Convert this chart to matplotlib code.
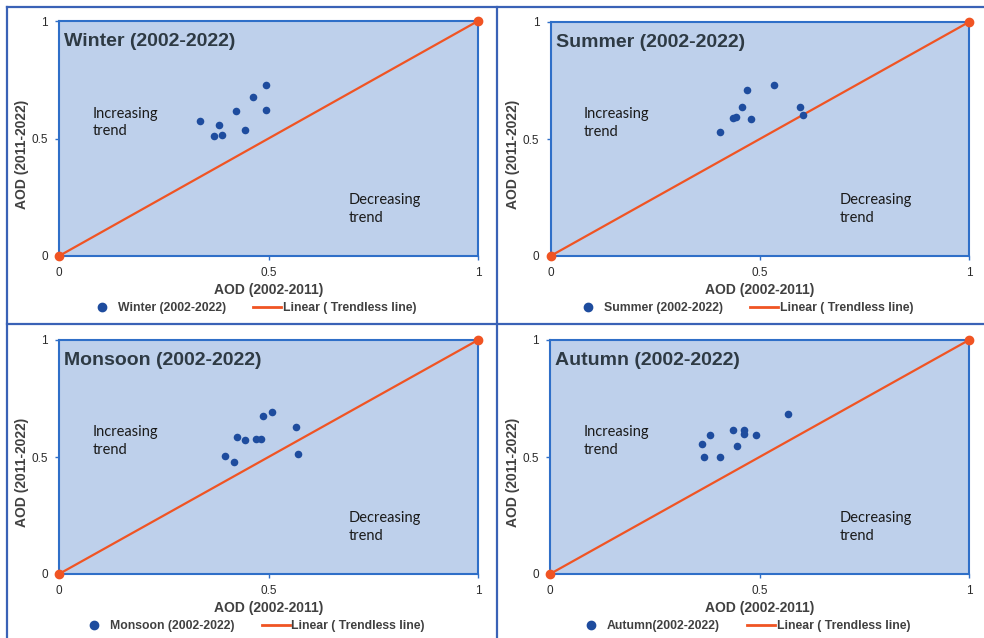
import matplotlib
matplotlib.use("Agg")
import matplotlib.pyplot as plt
from matplotlib.lines import Line2D

# AOD pairs per season: x = mean 2002-2011, y = mean 2011-2022
winter_x = [0.336, 0.383, 0.370, 0.389, 0.423, 0.444, 0.463, 0.495, 0.494]
winter_y = [0.575, 0.557, 0.510, 0.517, 0.616, 0.537, 0.678, 0.726, 0.621]

summer_x = [0.405, 0.435, 0.443, 0.457, 0.469, 0.480, 0.533, 0.596, 0.603]
summer_y = [0.530, 0.591, 0.596, 0.637, 0.710, 0.586, 0.730, 0.637, 0.601]

monsoon_x = [0.395, 0.417, 0.424, 0.444, 0.471, 0.481, 0.488, 0.509, 0.565, 0.571]
monsoon_y = [0.506, 0.480, 0.585, 0.571, 0.577, 0.577, 0.677, 0.694, 0.628, 0.514]

autumn_x = [0.363, 0.368, 0.381, 0.405, 0.436, 0.446, 0.463, 0.463, 0.491, 0.567]
autumn_y = [0.555, 0.501, 0.595, 0.501, 0.615, 0.547, 0.615, 0.597, 0.592, 0.682]

titles = ["Winter (2002-2022)", "Summer (2002-2022)",
          "Monsoon (2002-2022)", "Autumn (2002-2022)"]
legend_names = ["Winter (2002-2022)", "Summer (2002-2022)",
                "Monsoon (2002-2022)", "Autumn(2002-2022)"]
trend_x = [0, 1]
trend_y = [0, 1]
ticks = [0, 0.5, 1]
tick_labels = ["0", "0.5", "1"]

seasons = [(winter_x, winter_y), (summer_x, summer_y),
           (monsoon_x, monsoon_y), (autumn_x, autumn_y)]

W, H = 984, 638
fig = plt.figure(figsize=(W / 100, H / 100), dpi=100)
fig.patch.set_facecolor("white")

BG = "#BED0EB"
SPINE = "#2F6FC8"
DOT = "#1E4C9E"
ORANGE = "#F05423"
GREY = "#404040"
ARIAL = ["Liberation Sans", "DejaVu Sans"]

# pixel boxes (left, top, right, bottom) of the four plot areas
boxes = [(59, 21, 478, 256), (550.5, 22, 969, 256),
         (59, 340, 478, 574), (550, 340, 969, 574)]

for (xs, ys), title, lname, (l, t, r, b) in zip(seasons, titles, legend_names, boxes):
    ax = fig.add_axes([l / W, 1 - b / H, (r - l) / W, (b - t) / H])
    ax.set_facecolor(BG)
    for s in ax.spines.values():
        s.set_color(SPINE)
        s.set_linewidth(1.5)
    ax.set_xlim(0, 1)
    ax.set_ylim(0, 1)
    ax.set_xticks(ticks)
    ax.set_xticklabels(tick_labels)
    ax.set_yticks(ticks)
    ax.set_yticklabels(tick_labels)
    ax.tick_params(length=3, width=1, color=SPINE, labelsize=8.5,
                   labelcolor="#2B2B2B", pad=5)
    for lab in ax.get_xticklabels() + ax.get_yticklabels():
        lab.set_family(ARIAL)

    ax.plot(trend_x, trend_y, color=ORANGE, lw=1.6, marker="o", ms=6,
            clip_on=False, zorder=3)
    ax.scatter(xs, ys, s=30, color=DOT, zorder=4, linewidths=0)

    ax.text(0.012, 0.912, title, transform=ax.transAxes, va="center",
            ha="left", fontsize=14, fontweight="bold", color="#2E3A44",
            family=ARIAL)
    ax.text(0.08, 0.568, "Increasing\ntrend", fontsize=10.5, color="#1A1A1A",
            family=["Lato", "DejaVu Sans"], va="center", linespacing=1.35)
    ax.text(0.692, 0.20, "Decreasing\ntrend", fontsize=10.5, color="#1A1A1A",
            family=["Lato", "DejaVu Sans"], va="center", linespacing=1.35)

    ax.text(0.5, -0.145, "AOD (2002-2011)", transform=ax.transAxes,
            ha="center", va="center", fontsize=10, fontweight="bold",
            color=GREY, family=ARIAL)
    ax.text(-0.089, 0.434, "AOD (2011-2022)", transform=ax.transAxes,
            ha="center", va="center", rotation=90, fontsize=10,
            fontweight="bold", color=GREY, family=ARIAL)

    handles = [Line2D([], [], ls="none", marker="o", ms=6, color=DOT),
               Line2D([], [], color=ORANGE, lw=2)]
    ax.legend(handles, [lname, "Linear ( Trendless line)"], ncol=2,
              loc="center", bbox_to_anchor=(0.462, -0.222), frameon=False,
              prop={"family": ARIAL, "weight": "bold", "size": 8.8},
              labelcolor=GREY, handlelength=2.3, handletextpad=0.15,
              columnspacing=2.2, borderpad=0)

# panel frame lines
FRAME = "#3A62B6"
def px_line(x0, y0, x1, y1):
    fig.add_artist(Line2D([x0 / W, x1 / W], [1 - y0 / H, 1 - y1 / H],
                          color=FRAME, lw=1.6, transform=fig.transFigure))

px_line(6.5, 6.5, W, 6.5)
px_line(6.5, 6.5, 6.5, H)
px_line(497, 6.5, 497, H)
px_line(6.5, 323.5, W, 323.5)

fig.savefig("out.png", dpi=100)
